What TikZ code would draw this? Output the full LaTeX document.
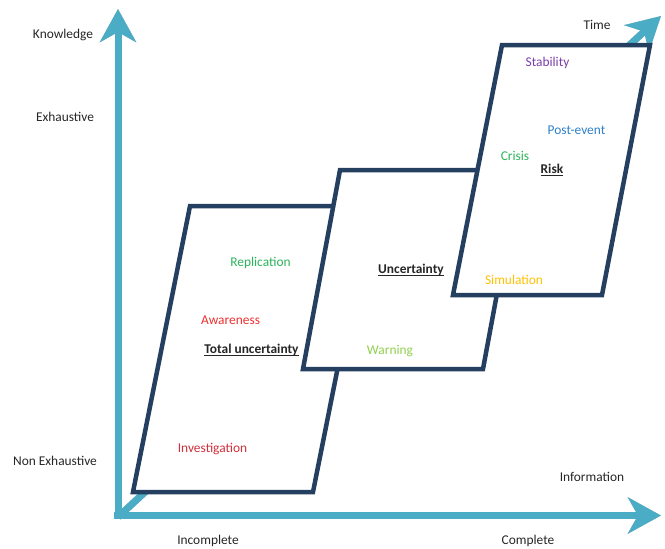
\documentclass[tikz,border=0pt]{standalone}
\usepackage{fontspec}
\setmainfont{Carlito}
\usetikzlibrary{arrows.meta}
\definecolor{axisblue}{HTML}{4BACC6}
\definecolor{navy}{HTML}{243F60}
\definecolor{cgreen}{HTML}{2DB35C}
\definecolor{cred}{HTML}{F03030}
\definecolor{cdred}{HTML}{D0303C}
\definecolor{clgreen}{HTML}{92D050}
\definecolor{cgold}{HTML}{FFC000}
\definecolor{cblue}{HTML}{2E80C8}
\definecolor{cpurple}{HTML}{7A3FA8}
\definecolor{ctext}{HTML}{262626}
\newcommand{\ulkey}[1]{\setbox0\hbox{#1}\rlap{\rule[-2.6pt]{\wd0}{1.3pt}}\box0}
\tikzset{
  axisline/.style={draw=axisblue, line width=7pt,
    -{Stealth[length=33pt,width=36pt,inset=10pt,fill=axisblue]}},
  axisshadow/.style={draw=black!25, line width=7pt,
    -{Stealth[length=33pt,width=36pt,inset=10pt,fill=black!25]}},
  plate/.style={draw=navy, line width=4.5pt, fill=white, line join=miter},
  lbl/.style={font=\fontsize{13.4}{15}\selectfont, text=ctext, inner sep=0pt},
  inlbl/.style={font=\fontsize{13.4}{15}\selectfont, inner sep=0pt},
  keylbl/.style={font=\fontsize{13.4}{15}\selectfont\bfseries, text=ctext, inner sep=0pt}
}
\begin{document}
\begin{tikzpicture}[x=1pt,y=-1pt]
\useasboundingbox (0,0) rectangle (665,549);
% axis coordinates
\coordinate (Ov) at (118,519);
\coordinate (Oh) at (114,515.5);
\coordinate (Od) at (118,517);
\coordinate (Ytip) at (118,9);
\coordinate (Xtip) at (661,515.5);
\coordinate (Ttip) at (661,16);
% shadows
\begin{scope}[shift={(1.8,2)}]
\draw[axisshadow] (Od) -- (Ttip);
\draw[axisshadow] (Ov) -- (Ytip);
\draw[axisshadow] (Oh) -- (Xtip);
\end{scope}
% axes
\draw[axisline] (Od) -- (Ttip);
\draw[axisline] (Ov) -- (Ytip);
\draw[axisline] (Oh) -- (Xtip);
% plates
\coordinate (a1) at (190,206);
\coordinate (a2) at (370,206);
\coordinate (a3) at (313,492);
\coordinate (a4) at (133,492);
\draw[plate] (a1) -- (a2) -- (a3) -- (a4) -- cycle;
\coordinate (b1) at (340,170);
\coordinate (b2) at (520,170);
\coordinate (b3) at (483,369);
\coordinate (b4) at (303,369);
\draw[plate] (b1) -- (b2) -- (b3) -- (b4) -- cycle;
\coordinate (c1) at (502,45);
\coordinate (c2) at (650,45);
\coordinate (c3) at (602,295);
\coordinate (c4) at (453,295);
\draw[plate] (c1) -- (c2) -- (c3) -- (c4) -- cycle;
% axis labels
\node[lbl] (knowledge) at (63,35) {Knowledge};
\node[lbl] (exhaustive) at (65,117) {Exhaustive};
\node[lbl] (nonexh) at (55,461) {Non Exhaustive};
\node[lbl] (incomplete) at (208,541) {Incomplete};
\node[lbl] (complete) at (528,541) {Complete};
\node[lbl] (information) at (592,477) {Information};
\node[lbl] (time) at (597,25) {Time};
% plate 1 labels
\node[inlbl, text=cgreen] (replication) at (260.5,263) {Replication};
\node[inlbl, text=cred] (awareness) at (230.5,320) {Awareness};
\node[keylbl] (totalunc) at (251.5,350) {\ulkey{Total uncertainty}};
\node[inlbl, text=cdred] (investigation) at (212.5,449) {Investigation};
% plate 2 labels
\node[keylbl] (uncertainty) at (411,270) {\ulkey{Uncertainty}};
\node[inlbl, text=clgreen] (warning) at (390,351) {Warning};
% plate 3 labels
\node[inlbl, text=cpurple] (stability) at (547.5,63) {Stability};
\node[inlbl, text=cblue] (postevent) at (576.5,130) {Post-event};
\node[inlbl, text=cgreen] (crisis) at (515,156) {Crisis};
\node[keylbl] (risk) at (552,170) {\ulkey{Risk}};
\node[inlbl, text=cgold] (simulation) at (514,280) {Simulation};
\end{tikzpicture}
\end{document}
